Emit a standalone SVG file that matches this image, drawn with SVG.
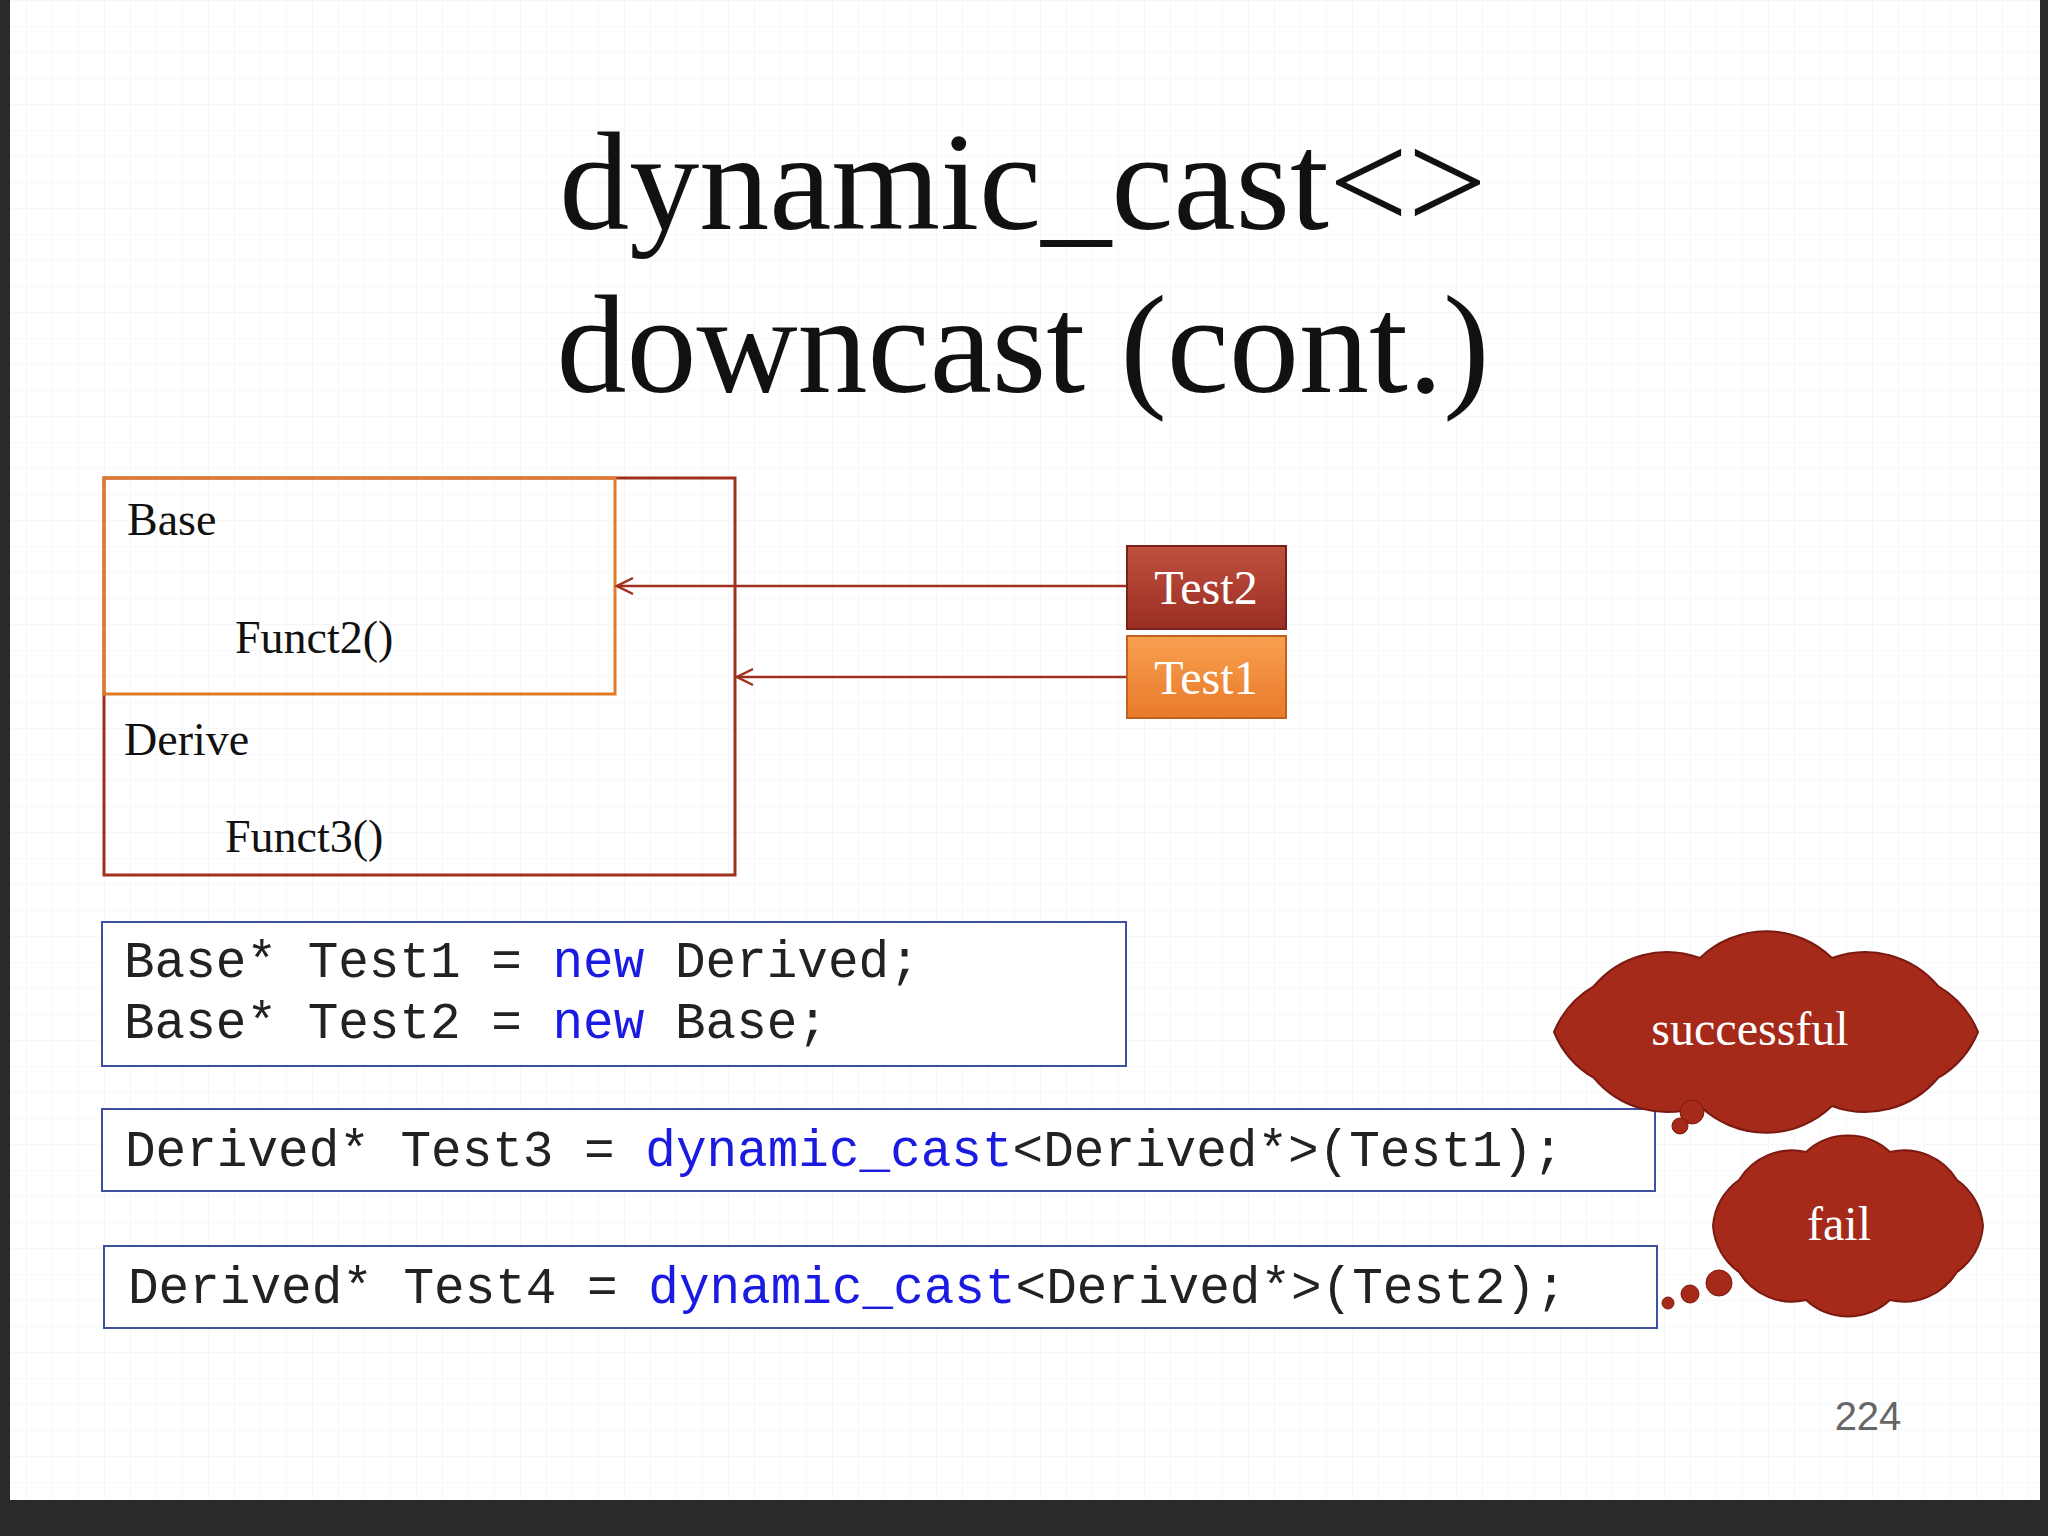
<svg xmlns="http://www.w3.org/2000/svg" width="2048" height="1536" viewBox="0 0 2048 1536">
<defs>
<pattern id="grid" width="26" height="26" patternUnits="userSpaceOnUse"><path d="M26 0H0V26" fill="none" stroke="#eef0f2" stroke-width="1"/></pattern>
<marker id="ah" viewBox="0 0 20 20" refX="18" refY="10" markerWidth="20" markerHeight="20" markerUnits="userSpaceOnUse" orient="auto"><path d="M2 2 L18 10 L2 18" fill="none" stroke="#A0301E" stroke-width="2.5"/></marker>
<linearGradient id="g2" x1="0" y1="0" x2="0" y2="1"><stop offset="0" stop-color="#C05040"/><stop offset="1" stop-color="#9A2E22"/></linearGradient>
<linearGradient id="g1" x1="0" y1="0" x2="0" y2="1"><stop offset="0" stop-color="#F8A050"/><stop offset="1" stop-color="#E87A2A"/></linearGradient>
</defs>
<style>
.ser{font-family:"Liberation Serif","DejaVu Serif",serif;fill:#111}
.mono{font-family:"Liberation Mono","Courier New",monospace;font-size:51px;fill:#222;white-space:pre}
.blue{fill:#1A1AE0}
.wt{font-family:"Liberation Serif",serif;fill:#fff;font-size:48px}
</style>
<rect width="2048" height="1536" fill="#2a2a2a"/>
<rect x="10" y="0" width="2030" height="1500" fill="#fff"/>
<rect x="10" y="0" width="2030" height="1500" fill="url(#grid)"/>
<text class="ser" x="1023" y="229" font-size="140" text-anchor="middle" fill="#222">dynamic_cast&lt;&gt;</text>
<text class="ser" x="1023" y="392" font-size="140" text-anchor="middle" fill="#222">downcast (cont.)</text>
<g id="derive"><rect x="104" y="478" width="631" height="397" fill="none" stroke="#A0301E" stroke-width="3"/>
<text class="ser" x="124" y="755" font-size="46">Derive</text><text class="ser" x="225" y="852" font-size="46">Funct3()</text></g>
<g id="base"><rect x="104" y="478" width="511" height="216" fill="none" stroke="#E07B2A" stroke-width="3"/>
<text class="ser" x="127" y="535" font-size="46">Base</text><text class="ser" x="235" y="653" font-size="46">Funct2()</text></g>
<g id="connectors" stroke="#A0301E" stroke-width="2.5">
<line x1="1126" y1="586" x2="617" y2="586" marker-end="url(#ah)"/>
<line x1="1126" y1="677" x2="737" y2="677" marker-end="url(#ah)"/>
</g>
<g id="test2"><rect x="1127" y="546" width="159" height="83" fill="url(#g2)" stroke="#7a2018" stroke-width="2"/><text class="wt" x="1206" y="604" text-anchor="middle">Test2</text></g>
<g id="test1"><rect x="1127" y="636" width="159" height="82" fill="url(#g1)" stroke="#c06020" stroke-width="2"/><text class="wt" x="1206" y="694" text-anchor="middle">Test1</text></g>
<g id="code1"><rect x="102" y="922" width="1024" height="144" fill="#fff" stroke="#4050A0" stroke-width="2"/>
<text class="mono" x="124" y="977">Base* Test1 = <tspan class="blue">new</tspan> Derived;</text>
<text class="mono" x="124" y="1038">Base* Test2 = <tspan class="blue">new</tspan> Base;</text></g>
<g id="code2"><rect x="102" y="1109" width="1553" height="82" fill="#fff" stroke="#4050A0" stroke-width="2"/>
<text class="mono" x="125" y="1166">Derived* Test3 = <tspan class="blue">dynamic_cast</tspan>&lt;Derived*&gt;(Test1);</text></g>
<g id="code3"><rect x="104" y="1246" width="1553" height="82" fill="#fff" stroke="#4050A0" stroke-width="2"/>
<text class="mono" x="128" y="1303">Derived* Test4 = <tspan class="blue">dynamic_cast</tspan>&lt;Derived*&gt;(Test2);</text></g>
<g id="successful">
<path d="M1978 1032 A95 95 0 0 1 1938 1078 A95 95 0 0 1 1832 1106 A95 95 0 0 1 1700 1106 A95 95 0 0 1 1594 1078 A95 95 0 0 1 1554 1032 A95 95 0 0 1 1594 986 A95 95 0 0 1 1700 958 A95 95 0 0 1 1832 958 A95 95 0 0 1 1938 986 A95 95 0 0 1 1978 1032 Z" fill="#A52A1A" stroke="#7a1a10" stroke-width="2"/>
<circle cx="1692" cy="1112" r="12" fill="#A52A1A" stroke="#7a1a10"/><circle cx="1680" cy="1126" r="8" fill="#A52A1A" stroke="#7a1a10"/>
<text class="wt" x="1750" y="1045" text-anchor="middle">successful</text></g>
<g id="fail">
<path d="M1983 1226 A62 62 0 0 1 1957 1272 A62 62 0 0 1 1890 1300 A62 62 0 0 1 1806 1300 A62 62 0 0 1 1739 1272 A62 62 0 0 1 1713 1226 A62 62 0 0 1 1739 1180 A62 62 0 0 1 1806 1152 A62 62 0 0 1 1890 1152 A62 62 0 0 1 1957 1180 A62 62 0 0 1 1983 1226 Z" fill="#A52A1A" stroke="#7a1a10" stroke-width="2"/>
<circle cx="1719" cy="1283" r="13" fill="#A52A1A" stroke="#7a1a10"/><circle cx="1690" cy="1294" r="9" fill="#A52A1A" stroke="#7a1a10"/><circle cx="1668" cy="1303" r="6" fill="#A52A1A" stroke="#7a1a10"/>
<text class="wt" x="1839" y="1240" text-anchor="middle">fail</text></g>
<text x="1868" y="1430" font-family="Liberation Sans,sans-serif" font-size="40" fill="#666" text-anchor="middle">224</text>
</svg>
